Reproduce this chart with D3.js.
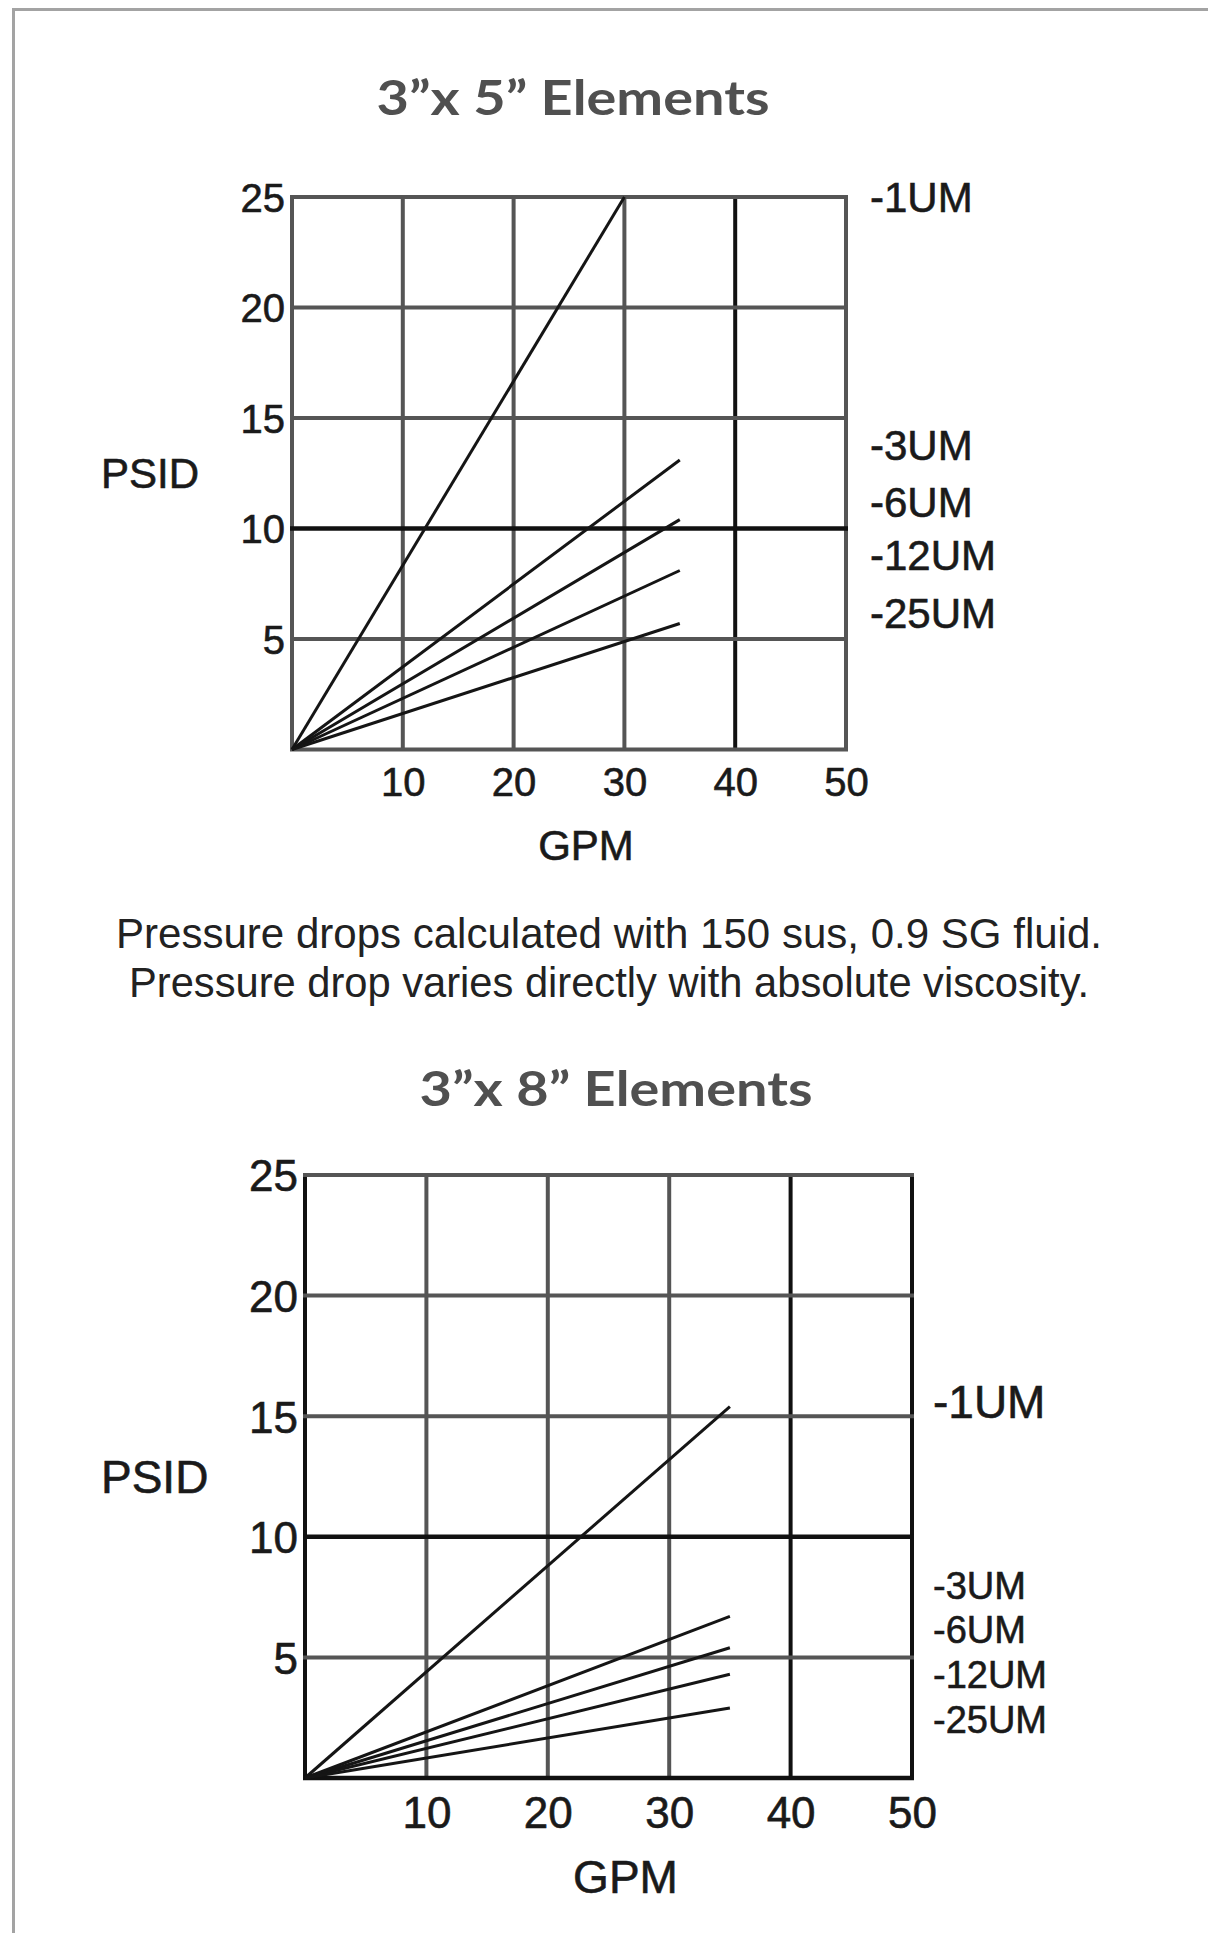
<!DOCTYPE html>
<html>
<head>
<meta charset="utf-8">
<script src="https://cdn.jsdelivr.net/npm/d3@7"></script>
<style>
  body { margin: 0; background: #fff; }
  .tick text { font-family: "Liberation Sans", Arial, sans-serif; fill: #1a1a1a; stroke: #1a1a1a; stroke-width: 0.6; }
  .lbl { font-family: "Liberation Sans", Arial, sans-serif; fill: #1a1a1a; stroke: #1a1a1a; stroke-width: 0.6; }
  .title { font-family: Lato, "Open Sans", sans-serif; font-weight: 700; fill: #505050; }
  .note { font-family: "Liberation Sans Narrow", "Arial Narrow", "Liberation Sans", sans-serif; fill: #222; }
</style>
</head>
<body>
<div id="chart"></div>
<script>
// Data
const gpmTicks = [10, 20, 30, 40, 50];
const psidTicks = [5, 10, 15, 20, 25];
const grades = ["-1UM", "-3UM", "-6UM", "-12UM", "-25UM"];

// 3"x 5" elements: end point of each line (all start at 0,0)
const endGpm5 = [30, 35, 35, 35, 35];
const endPsid5 = [25, 13.1, 10.4, 8.1, 5.7];
// 3"x 8" elements
const endGpm8 = [35, 35, 35, 35, 35];
const endPsid8 = [15.4, 6.7, 5.4, 4.3, 2.9];

const notes = [
  "Pressure drops calculated with 150 sus, 0.9 SG fluid.",
  "Pressure drop varies directly with absolute viscosity."
];

// Width & height
const WIDTH = 1208;
const HEIGHT = 1933;

const svg = d3
  .select("#chart")
  .append("svg")
  .attr("width", WIDTH)
  .attr("height", HEIGHT);

svg.append("rect").attr("width", WIDTH).attr("height", HEIGHT).attr("fill", "#fff");

// Frame (only top & left visible)
svg.append("path")
  .attr("d", "M13.5," + HEIGHT + "V9.5H" + WIDTH)
  .attr("fill", "none")
  .attr("stroke", "#a3a3a3")
  .attr("stroke-width", 3);

// Chart settings
const charts = [
  {
    title: "3\u201dx 5\u201d Elements",
    titleX: 573, titleY: 115,
    left: 292, right: 846, top: 197, bottom: 749.5,
    endGpm: endGpm5, endPsid: endPsid5,
    labelPsid: [25, 13.8, 11.2, 8.8, 6.2],
    labelDx: 24,
    tickFont: 40, labelFont: 42, gradeFont: 42,
    darkGpm: [40], darkPsid: [10],
    gpmDy: 46, gpmLabelDy: 110
  },
  {
    title: "3\u201dx 8\u201d Elements",
    titleX: 616, titleY: 1106,
    left: 305, right: 912, top: 1175, bottom: 1778,
    endGpm: endGpm8, endPsid: endPsid8,
    labelPsid: [15.6, 8.0, 6.15, 4.3, 2.45],
    labelDx: 21,
    tickFont: 44, labelFont: 46, gradeFont: 38,
    darkGpm: [0, 40, 50], darkPsid: [0, 10],
    gpmDy: 50, gpmLabelDy: 115
  }
];

charts.forEach((c) => {
  const x = d3.scaleLinear().domain([0, 50]).range([c.left, c.right]);
  const y = d3.scaleLinear().domain([0, 25]).range([c.bottom, c.top]);

  // Title
  svg.append("text")
    .attr("class", "title")
    .attr("x", c.titleX)
    .attr("y", c.titleY)
    .attr("text-anchor", "middle")
    .attr("font-size", 48)
    .attr("textLength", 393)
    .attr("lengthAdjust", "spacingAndGlyphs")
    .text(c.title);

  // Grid
  const g = svg.append("g");
  [0].concat(gpmTicks).forEach((v) => {
    const dark = c.darkGpm.includes(v);
    g.append("line")
      .attr("x1", x(v)).attr("x2", x(v))
      .attr("y1", y(0)).attr("y2", y(25))
      .attr("stroke", dark ? "#111" : "#555")
      .attr("stroke-width", 4);
  });
  [0].concat(psidTicks).forEach((v) => {
    const dark = c.darkPsid.includes(v);
    g.append("line")
      .attr("x1", x(0) - 2).attr("x2", x(50) + 2)
      .attr("y1", y(v)).attr("y2", y(v))
      .attr("stroke", dark ? "#111" : "#555")
      .attr("stroke-width", dark ? 4.5 : 4);
  });

  // Axes
  const xAxis = d3.axisBottom(x).tickValues(gpmTicks).tickSize(0).tickPadding(0);
  const yAxis = d3.axisLeft(y).tickValues(psidTicks).tickSize(0).tickPadding(7);

  const xg = svg.append("g")
    .attr("transform", "translate(0," + c.bottom + ")")
    .call(xAxis);
  xg.select(".domain").remove();
  xg.selectAll("text")
    .attr("font-size", c.tickFont)
    .attr("dy", null)
    .attr("y", c.gpmDy);

  const yg = svg.append("g")
    .attr("transform", "translate(" + c.left + ",0)")
    .call(yAxis);
  yg.select(".domain").remove();
  yg.selectAll("text")
    .attr("font-size", c.tickFont)
    .attr("dy", "0.36em");

  // Axis labels
  svg.append("text")
    .attr("class", "lbl")
    .attr("x", 101)
    .attr("y", y(12.5))
    .attr("dy", "0.36em")
    .attr("font-size", c.labelFont)
    .text("PSID");

  svg.append("text")
    .attr("class", "lbl")
    .attr("x", (c.left + c.right) / 2 + 17)
    .attr("y", c.bottom + c.gpmLabelDy)
    .attr("text-anchor", "middle")
    .attr("font-size", c.labelFont)
    .text("GPM");

  // Lines
  const line = d3.line().x((d) => x(d[0])).y((d) => y(d[1]));
  svg.append("g")
    .selectAll("path")
    .data(grades.map((gr, i) => [[0, 0], [c.endGpm[i], c.endPsid[i]]]))
    .enter()
    .append("path")
    .attr("d", line)
    .attr("fill", "none")
    .attr("stroke", "#151515")
    .attr("stroke-width", 3);

  // Grade labels
  svg.append("g")
    .selectAll("text")
    .data(grades)
    .enter()
    .append("text")
    .attr("class", "lbl")
    .attr("x", c.right + c.labelDx)
    .attr("y", (d, i) => y(c.labelPsid[i]))
    .attr("dy", "0.36em")
    .attr("font-size", (d, i) => (i === 0 ? c.labelFont : c.gradeFont))
    .text((d) => d);
});

// Notes
svg.append("g")
  .selectAll("text")
  .data(notes)
  .enter()
  .append("text")
  .attr("class", "note")
  .attr("x", 609)
  .attr("y", (d, i) => 948 + i * 49)
  .attr("text-anchor", "middle")
  .attr("font-size", 42)
  .attr("textLength", (d, i) => (i === 0 ? 986 : 960))
  .attr("lengthAdjust", "spacingAndGlyphs")
  .text((d) => d);
</script>
</body>
</html>
